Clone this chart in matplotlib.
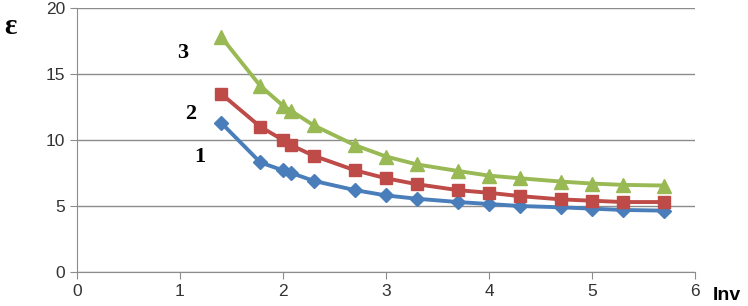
import numpy as np
import matplotlib
matplotlib.use("Agg")
import matplotlib.pyplot as plt

x = [1.4, 1.78, 2.0, 2.08, 2.3, 2.7, 3.0, 3.3, 3.7, 4.0, 4.3, 4.7, 5.0, 5.3, 5.7]
eps1 = [11.3, 8.3, 7.7, 7.5, 6.9, 6.2, 5.8, 5.55, 5.3, 5.15, 5.0, 4.9, 4.8, 4.7, 4.65]
eps2 = [13.5, 11.0, 10.0, 9.6, 8.8, 7.7, 7.1, 6.65, 6.2, 6.0, 5.75, 5.5, 5.4, 5.3, 5.3]
eps3 = [17.8, 14.1, 12.6, 12.2, 11.1, 9.6, 8.75, 8.15, 7.65, 7.3, 7.1, 6.85, 6.7, 6.6, 6.55]

fig = plt.figure(figsize=(7.48, 3.06), dpi=100)
ax = fig.add_axes([77/748, 1 - 272/306, (695-77)/748, (272-8)/306])

ax.plot(x, eps1, color='#4A7EBB', marker='D', markersize=7, linewidth=2.8)
ax.plot(x, eps2, color='#BE4B48', marker='s', markersize=9, linewidth=2.8)
ax.plot(x, eps3, color='#98B954', marker='^', markersize=10, linewidth=2.8)

ax.set_xlim(0, 6)
ax.set_ylim(0, 20)
ax.set_xticks(range(0, 7))
ax.set_yticks(range(0, 21, 5))
ax.grid(axis='y', color='#8c8c8c', linewidth=1)
ax.set_axisbelow(True)
for s in ['top', 'right']:
    ax.spines[s].set_visible(False)
for s in ['left', 'bottom']:
    ax.spines[s].set_color('#8c8c8c')
ax.tick_params(colors='#8c8c8c', labelcolor='#333333', labelsize=12.5, length=5)
for lbl in ax.get_xticklabels() + ax.get_yticklabels():
    lbl.set_fontfamily('Liberation Sans')

ax.text(1.03, 16.6, '3', fontsize=16, fontweight='bold', family='Liberation Serif', ha='center', va='center')
ax.text(1.10, 12.0, '2', fontsize=16, fontweight='bold', family='Liberation Serif', ha='center', va='center')
ax.text(1.19, 8.7, '1', fontsize=16, fontweight='bold', family='Liberation Serif', ha='center', va='center')

fig.text(10/748, 1 - 27/306, 'ε', fontsize=21, fontweight='bold', family='Liberation Serif', va='center', ha='center')
fig.text(727/748, 1 - 296/306, 'Inv', fontsize=14, fontweight='bold', family='Liberation Sans', va='center', ha='center')

fig.savefig('out.png', dpi=100)
